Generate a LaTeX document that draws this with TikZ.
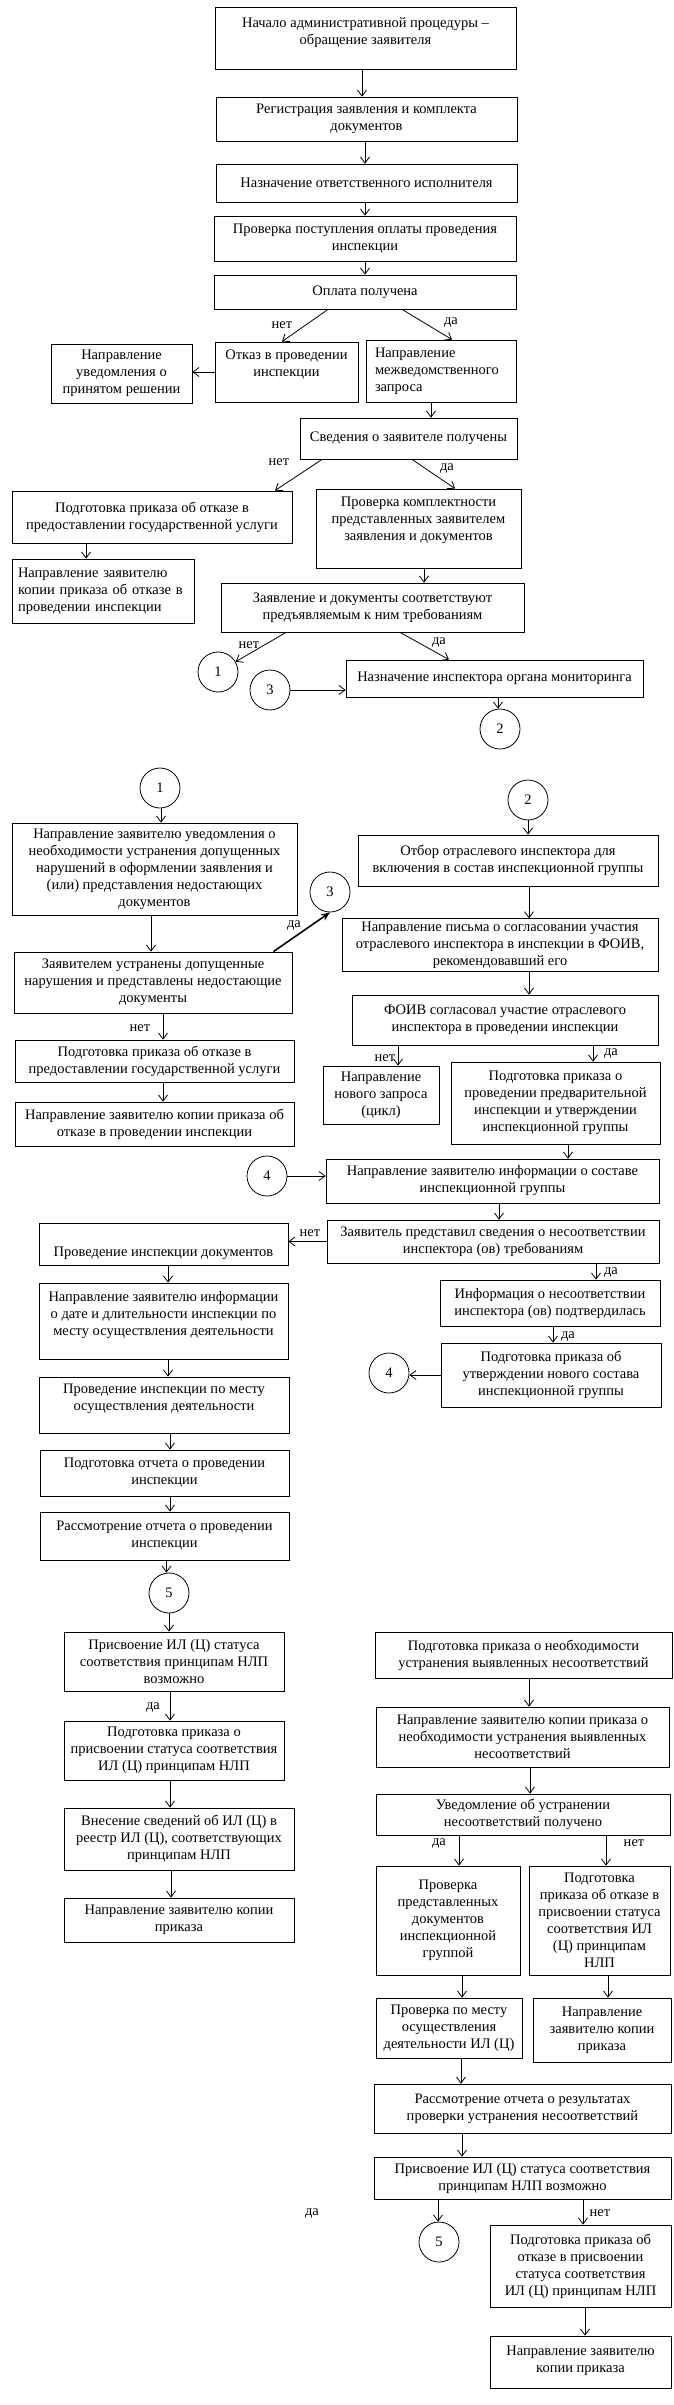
\documentclass[tikz,border=0pt]{standalone}
\usepackage{fontspec}
\setmainfont{Liberation Serif}
\usepackage{tikz}
\usetikzlibrary{calc, positioning, arrows, arrows.meta}
\def\boxfont{\fontsize{14.5}{17}\selectfont}
\tikzstyle{block}=[draw, rectangle, align=center, inner sep=3pt, font=\boxfont]
\tikzstyle{left block}=[block, align=left]
\tikzstyle{connector}=[draw, circle, minimum size=40pt, inner sep=0pt, font=\boxfont]
\tikzstyle{annot}=[inner sep=1pt, font=\boxfont]
\tikzstyle{bold link}=[line width=1.6pt, -{Stealth[length=9pt,width=7pt]}]

\begin{document}
\begin{tikzpicture}[->, >={Straight Barb[length=6pt,width=9pt]}, x=1pt, y=-1pt, line width=0.8pt]
			\useasboundingbox (0,0) rectangle (674,2405);

			% Part one: application, payment and documents
			\node[block, minimum width=301, minimum height=62, text depth=13.5pt] (start) at (365.5,38) {Начало административной процедуры –\\ обращение заявителя};
			\node[block, minimum width=301, minimum height=44] (reg) at (366.5,119) {Регистрация заявления и комплекта\\ документов};
			\node[block, minimum width=301, minimum height=38] (assign) at (366.5,183) {Назначение ответственного исполнителя};
			\node[block, minimum width=302, minimum height=45] (paycheck) at (365,238.5) {Проверка поступления оплаты проведения\\ инспекции};
			\node[block, minimum width=302, minimum height=34] (paid) at (365,292) {Оплата получена};
			\node[block, minimum width=143, minimum height=60, text depth=17.5pt] (refuse) at (286.5,372) {Отказ в проведении\\ инспекции};
			\node[left block, minimum width=150, minimum height=62, text width=132pt] (interreq) at (441,371) {Направление\\ межведомственного\\ запроса};
			\node[block, minimum width=141, minimum height=59] (notify) at (121.5,373.5) {Направление\\ уведомления о\\ принятом решении};
			\node[block, minimum width=217, minimum height=41] (info) at (408.5,438.5) {Сведения о заявителе получены};
			\node[block, minimum width=280, minimum height=52] (rej1) at (152,517) {Подготовка приказа об отказе в\\ предоставлении государственной услуги};
			\node[left block, minimum width=182, minimum height=64, text width=170pt] (rej1copy) at (103,591) {Направление заявителю\\ копии приказа об отказе в\\ проведении инспекции};
			\node[block, minimum width=205, minimum height=79, text depth=19.5pt] (complete) at (418.5,528.5) {Проверка комплектности\\ представленных заявителем\\ заявления и документов};
			\node[block, minimum width=303, minimum height=49] (docsok) at (372.5,607.5) {Заявление и документы соответствуют\\ предъявляемым к ним требованиям};
			\node[block, minimum width=297, minimum height=37] (inspector) at (494.5,678.5) {Назначение инспектора органа мониторинга};

			% Part two: inspection group
			\node[block, minimum width=285, minimum height=92] (fixnote) at (154.5,869) {Направление заявителю уведомления о\\ необходимости устранения допущенных\\ нарушений в оформлении заявления и\\ (или) представления недостающих\\ документов};
			\node[block, minimum width=278, minimum height=61] (fixed) at (153,982.5) {Заявителем устранены допущенные\\ нарушения и представлены недостающие\\ документы};
			\node[block, minimum width=279, minimum height=42] (rej2) at (154.5,1061) {Подготовка приказа об отказе в\\ предоставлении государственной услуги};
			\node[block, minimum width=279, minimum height=44] (rej2copy) at (154.5,1124) {Направление заявителю копии приказа об\\ отказе в проведении инспекции};
			\node[block, minimum width=300, minimum height=51] (select) at (508,860.5) {Отбор отраслевого инспектора для\\ включения в состав инспекционной группы};
			\node[block, minimum width=316, minimum height=52] (letter) at (500,945) {Направление письма о согласовании участия\\ отраслевого инспектора в инспекции в ФОИВ,\\ рекомендовавший его};
			\node[block, minimum width=306, minimum height=50] (foiv) at (505,1020) {ФОИВ согласовал участие отраслевого\\ инспектора в проведении инспекции};
			\node[block, minimum width=116, minimum height=58] (newreq) at (381,1095) {Направление\\ нового запроса\\ (цикл)};
			\node[block, minimum width=209, minimum height=82] (prelim) at (555.5,1103) {Подготовка приказа о\\ проведении предварительной\\ инспекции и утверждении\\ инспекционной группы};
			\node[block, minimum width=333, minimum height=44] (compose) at (492.5,1181) {Направление заявителю информации о составе\\ инспекционной группы};
			\node[block, minimum width=332, minimum height=43] (objection) at (493,1241.5) {Заявитель представил сведения о несоответствии\\ инспектора (ов) требованиям};
			\node[block, minimum width=249, minimum height=42, text height=28pt] (docinsp) at (163.5,1244) {Проведение инспекции документов};
			\node[block, minimum width=249, minimum height=76, text depth=15.5pt] (datesend) at (163.5,1321) {Направление заявителю информации\\ о дате и длительности инспекции по\\ месту осуществления деятельности};
			\node[block, minimum width=250, minimum height=56, text depth=15.5pt] (siteinsp) at (164,1405) {Проведение инспекции по месту\\ осуществления деятельности};
			\node[block, minimum width=220, minimum height=46] (confirmed) at (550,1303) {Информация о несоответствии\\ инспектора (ов) подтвердилась};
			\node[block, minimum width=220, minimum height=64] (newgroup) at (551,1375) {Подготовка приказа об\\ утверждении нового состава\\ инспекционной группы};
			\node[block, minimum width=249, minimum height=46] (report) at (164.5,1473) {Подготовка отчета о проведении\\ инспекции};
			\node[block, minimum width=249, minimum height=48] (review) at (164.5,1536) {Рассмотрение отчета о проведении\\ инспекции};

			% Part three: status of the laboratory
			\node[block, minimum width=220, minimum height=59] (possible) at (174,1661.5) {Присвоение ИЛ (Ц) статуса\\ соответствия принципам НЛП\\ возможно};
			\node[block, minimum width=220, minimum height=59] (grant) at (174,1750.5) {Подготовка приказа о\\ присвоении статуса соответствия\\ ИЛ (Ц) принципам НЛП};
			\node[block, minimum width=230, minimum height=62] (register) at (179,1839) {Внесение сведений об ИЛ (Ц) в\\ реестр ИЛ (Ц), соответствующих\\ принципам НЛП};
			\node[block, minimum width=230, minimum height=44] (grantcopy) at (179,1920) {Направление заявителю копии\\ приказа};
			\node[block, minimum width=297, minimum height=46] (fixorder) at (523.5,1655) {Подготовка приказа о необходимости\\ устранения выявленных несоответствий};
			\node[block, minimum width=293, minimum height=60] (fixcopy) at (522.5,1737) {Направление заявителю копии приказа о\\ необходимости устранения выявленных\\ несоответствий};
			\node[block, minimum width=294, minimum height=41] (fixdone) at (523,1814.5) {Уведомление об устранении\\ несоответствий получено};
			\node[block, minimum width=144, minimum height=109] (recheck) at (448,1920.5) {Проверка\\ представленных\\ документов\\ инспекционной\\ группой};
			\node[block, minimum width=141, minimum height=109] (denyorder) at (599.5,1920.5) {Подготовка\\ приказа об отказе в\\ присвоении статуса\\ соответствия ИЛ\\ (Ц) принципам\\ НЛП};
			\node[block, minimum width=146, minimum height=60] (sitecheck) at (449,2028) {Проверка по месту\\ осуществления\\ деятельности ИЛ (Ц)};
			\node[block, minimum width=138, minimum height=64] (denycopy) at (602,2030) {Направление\\ заявителю копии\\ приказа};
			\node[block, minimum width=297, minimum height=49] (rereview) at (522.5,2108.5) {Рассмотрение отчета о результатах\\ проверки устранения несоответствий};
			\node[block, minimum width=297, minimum height=42] (repossible) at (522.5,2178) {Присвоение ИЛ (Ц) статуса соответствия\\ принципам НЛП возможно};
			\node[block, minimum width=181, minimum height=82] (finaldeny) at (580.5,2266) {Подготовка приказа об\\ отказе в присвоении\\ статуса соответствия\\ ИЛ (Ц) принципам НЛП};
			\node[block, minimum width=181, minimum height=52, text depth=5pt] (finalcopy) at (580.5,2362) {Направление заявителю\\ копии приказа};

			% Draw the page connectors
			\foreach \name/\num/\x/\y in {c1a/1/218/672, c3a/3/270/690, c2a/2/500/729, c1b/1/160/788, c2b/2/528/800, c3b/3/330/892, c4a/4/267/1176, c4b/4/389/1373, c5a/5/169/1593, c5b/5/439/2242}
			\node[connector] (\name) at (\x,\y) {\num};

			% Straight arrows down, shifted from the centre of the upper box
			\foreach \a/\b/\d in {start/reg/-3.5, reg/assign/-1.5, assign/paycheck/-1.5, paycheck/paid/0, interreq/info/-10, rej1/rej1copy/-66, complete/docsok/5.5, inspector/c2a/3.5, c1b/fixnote/1, c2b/select/0, fixnote/fixed/-3.5, fixed/rej2/10, rej2/rej2copy/8.5, select/letter/21, letter/foiv/29, foiv/newreq/-107, foiv/prelim/88, prelim/compose/12.5, compose/objection/6.5, objection/confirmed/103, confirmed/newgroup/3, docinsp/datesend/4.5, datesend/siteinsp/4.5, siteinsp/report/6, report/review/5.5, review/c5a/2, c5a/possible/0, possible/grant/-4, grant/register/-4, register/grantcopy/-8, fixorder/fixcopy/5.5, fixcopy/fixdone/7.5, fixdone/recheck/-64, fixdone/denyorder/83, recheck/sitecheck/14, denyorder/denycopy/8.5, sitecheck/rereview/12, rereview/repossible/-60.5, repossible/c5b/-84.5, repossible/finaldeny/60.5, finaldeny/finalcopy/4.5}
			\draw ([xshift=\d pt]\a.south) -- ([xshift=\d pt]\a.south |- \b.north);

			% Branches
			\draw ([xshift=-37pt]paid.south) -- ([xshift=-4.5pt]refuse.north);
			\draw ([xshift=37pt]paid.south) -- ([xshift=11pt]interreq.north);
			\draw ([xshift=-86.5pt]info.south) -- ([xshift=123pt]rej1.north);
			\draw ([xshift=3.5pt]info.south) -- ([xshift=36.5pt]complete.north);
			\draw ([xshift=-86.5pt]docsok.south) -- (c1a);
			\draw ([xshift=27.5pt]docsok.south) -- ([xshift=-45.5pt]inspector.north);
			\draw[bold link] ([xshift=-19pt]fixed.north east) -- (c3b.south);

			% Arrows to the side
			\draw (refuse.west) -- (refuse.west -| notify.east);
			\draw (c3a.east) -- (c3a.east -| inspector.west);
			\draw (c4a.east) -- (c4a.east -| compose.west);
			\draw (objection.west) -- (objection.west -| docinsp.east);
			\draw (newgroup.west) -- (newgroup.west -| c4b.east);

			% Annotate the branches
			\foreach \t/\x/\y [count=\i] in {нет/282/325, да/451/323, нет/279/462, да/447/468, нет/249/645, да/439/642, да/294/925, нет/140/1028, нет/385/1058, да/611/1053, нет/310/1233, да/611/1272, да/568/1336, да/153/1707, да/439/1843, нет/634/1843, да/312/2213, нет/600/2213}
			\node[annot] (lab-\i) at (\x,\y) {\t};
		\end{tikzpicture}
\end{document}
